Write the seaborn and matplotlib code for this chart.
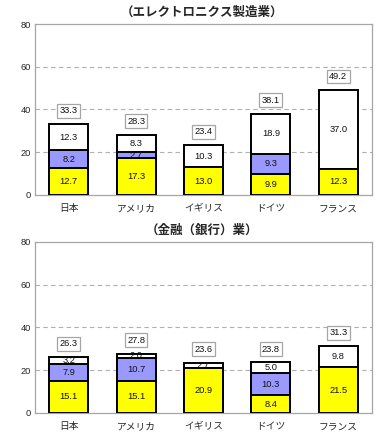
import matplotlib
matplotlib.use("Agg")
import matplotlib.pyplot as plt
import seaborn as sns
import pandas as pd
import numpy as np

countries = ["日本", "アメリカ", "イギリス", "ドイツ", "フランス"]

titles = ["（エレクトロニクス製造業）", "（金融（銀行）業）"]

elec_yellow = [12.7, 17.3, 13.0, 9.9, 12.3]
elec_purple = [8.2, 2.7, 0.0, 9.3, 0.0]
elec_white = [12.3, 8.3, 10.3, 18.9, 37.0]
elec_total = [33.3, 28.3, 23.4, 38.1, 49.2]

fin_yellow = [15.1, 15.1, 20.9, 8.4, 21.5]
fin_purple = [7.9, 10.7, 0.0, 10.3, 0.0]
fin_white = [3.2, 2.0, 2.7, 5.0, 9.8]
fin_total = [26.3, 27.8, 23.6, 23.8, 31.3]

yticks = [0, 20, 40, 60, 80]

sns.set_theme(style="white")
plt.rcParams["font.family"] = ["Liberation Sans", "Noto Sans CJK JP", "DejaVu Sans"]
CJK = ["Noto Sans CJK JP", "DejaVu Sans"]

fig = plt.figure(figsize=(3.82, 4.38), dpi=100)

GRAY = "#a6a6a6"
YELLOW = "#ffff00"
PURPLE = "#9999ff"


def panel(ax, yellow, purple, white, total, title):
    y = np.array(yellow)
    p = np.array(purple)
    w = np.array(white)
    df = pd.DataFrame({
        "country": countries,
        "top": y + p + w,
        "mid": y + p,
        "low": y,
    })
    for col, color in [("top", "white"), ("mid", PURPLE), ("low", YELLOW)]:
        sns.barplot(data=df, x="country", y=col, color=color, edgecolor="black",
                    linewidth=1.4, width=0.58, saturation=1, ax=ax, zorder=3)
    for i in range(len(countries)):
        segs = [(0, y[i]), (y[i], p[i]), (y[i] + p[i], w[i])]
        for base, h in segs:
            if h > 0:
                ax.text(i, base + h / 2, f"{h:.1f}", ha="center", va="center",
                        fontsize=6.7, color="#111111", zorder=5)
        ax.text(i, y[i] + p[i] + w[i] + 6.2, f"{total[i]:.1f}", ha="center",
                va="center", fontsize=6.7, color="#111111", zorder=5,
                bbox=dict(boxstyle="square,pad=0.25", fc="white", ec=GRAY, lw=0.9))
    ax.set_ylim(0, 80)
    ax.set_xlim(-0.5, len(countries) - 0.5)
    ax.set_yticks(yticks)
    ax.set_yticklabels([str(t) for t in yticks], fontsize=6.7)
    ax.set_xticks(np.arange(len(countries)))
    ax.set_xticklabels(countries, family=CJK, fontsize=7)
    ax.set_xlabel("")
    ax.set_ylabel("")
    ax.tick_params(axis="y", length=0, pad=3)
    ax.tick_params(axis="x", length=0, pad=6)
    ax.set_xticks(np.arange(len(countries)) + 0.5, minor=True)
    ax.tick_params(axis="x", which="minor", length=3, color=GRAY, width=0.8, direction="out")
    for t in yticks[1:-1]:
        ax.axhline(t, color="#b0b0b0", lw=0.8, ls=(0, (4, 3)), zorder=1)
    for s in ax.spines.values():
        s.set_color(GRAY)
        s.set_linewidth(0.9)
        s.set_visible(True)
    ax.set_facecolor("white")


ax1 = fig.add_axes([0.0916, 0.5548, 0.882, 0.3904])
panel(ax1, elec_yellow, elec_purple, elec_white, elec_total, titles[0])
ax2 = fig.add_axes([0.0916, 0.0571, 0.882, 0.3904])
panel(ax2, fin_yellow, fin_purple, fin_white, fin_total, titles[1])

fig.text(0.53, 0.9726, titles[0], ha="center", va="center", fontsize=9,
         fontweight="bold", family=CJK)
fig.text(0.53, 0.4749, titles[1], ha="center", va="center", fontsize=9,
         fontweight="bold", family=CJK)

fig.savefig("out.png", dpi=100, facecolor="white")
